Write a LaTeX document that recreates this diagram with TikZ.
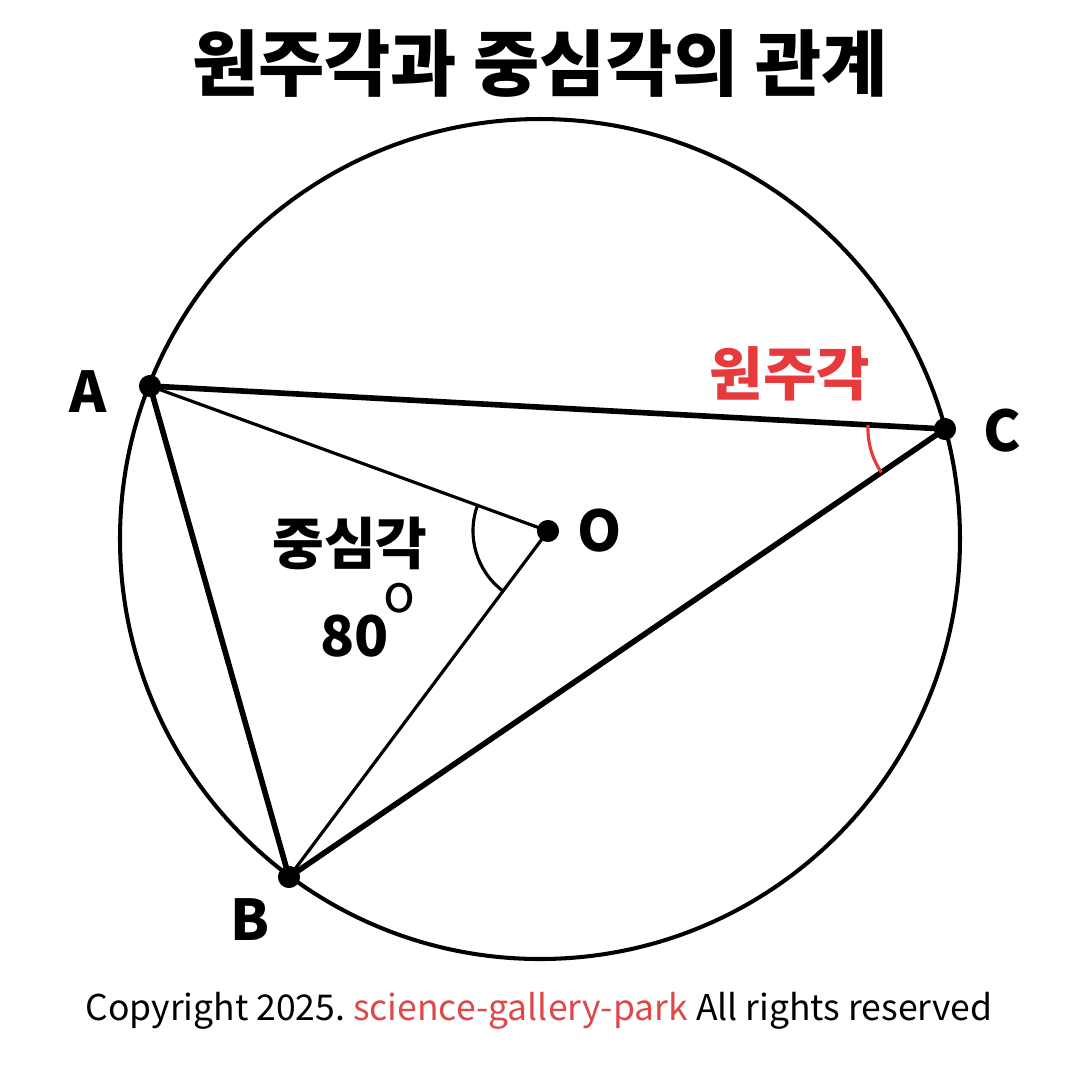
\documentclass[tikz,border=0pt]{standalone}
\usepackage{fontspec}
\setmainfont{Noto Sans CJK KR}
\definecolor{angred}{RGB}{230,58,60}
\definecolor{credred}{RGB}{222,72,72}
\tikzset{
  rim/.style={line width=1.15pt},
  chord/.style={line width=1.6pt},
  radius line/.style={line width=0.9pt},
  pt/.style={circle,fill=black,inner sep=0pt,minimum size=6.3pt},
  lbl/.style={font=\fontsize{16}{16}\selectfont\bfseries}
}
\begin{document}
\begin{tikzpicture}[x=0.1mm,y=-0.1mm]
    \useasboundingbox (0,0) rectangle (1080,1080);
    % title
    \node (title) at (540,64) {\fontsize{20.5}{20.5}\selectfont\bfseries 원주각과 중심각의 관계};
    % circle and points
    \coordinate (M) at (540,539);
    \draw[rim] (M) circle [radius=420];
    \coordinate (A) at (150,386);
    \coordinate (B) at (289,877);
    \coordinate (C) at (945,429);
    \coordinate (O) at (548,531);
    \draw[chord] (A)--(C)--(B)--cycle;
    \draw[radius line] (A)--(O)--(B);
    % central angle
    \draw[line width=0.9pt] (O)++(200:75) arc [start angle=200, end angle=126.8, radius=75];
    % inscribed angle
    \draw[angred,line width=0.9pt] (C)++(183.1:77) arc [start angle=183.1, end angle=145.7, radius=77];
    \node[pt] (dA) at (A) {};
    \node[pt] (dB) at (B) {};
    \node[pt] (dC) at (C) {};
    \node[pt] (dO) at (O) {};
    \node[lbl] (lA) at (88,392) {A};
    \node[lbl] (lB) at (250,920) {B};
    \node[lbl] (lC) at (1002,431) {C};
    \node[lbl] (lO) at (600,531) {O};
    \node[angred,font=\fontsize{16.5}{16.5}\selectfont\bfseries] (ins) at (790,374) {원주각};
    \node[font=\fontsize{16}{16}\selectfont\bfseries] (cen) at (350,543) {중심각};
    \node[lbl] (deg) at (355,636) {80};
    \node[font=\fontsize{15}{15}\selectfont] (degc) at (399,598) {o};
    % footer
    \node[font=\fontsize{10.1}{10.1}\selectfont\frenchspacing] (copy) at (539,1011) {Copyright 2025. \textcolor{credred}{science-gallery-park} All rights reserved};
\end{tikzpicture}
\end{document}
